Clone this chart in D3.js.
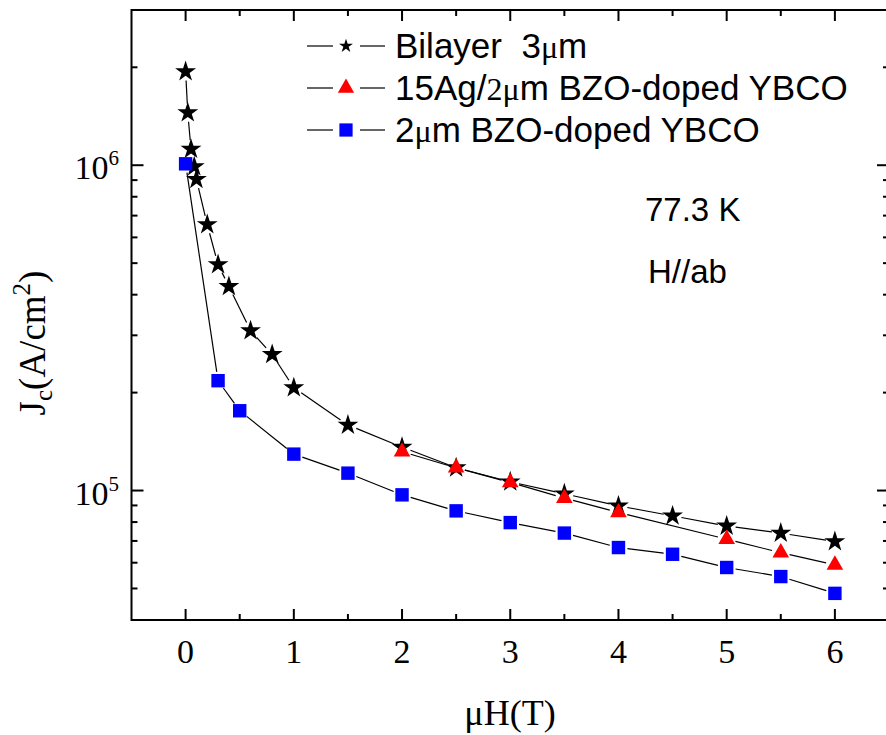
<!DOCTYPE html>
<html>
<head>
  <meta charset="utf-8">
  <title>Jc vs field</title>
  <script src="https://cdnjs.cloudflare.com/ajax/libs/d3/7.8.5/d3.min.js"></script>
  <style>
    body { margin: 0; background: white; }
    svg { display: block; }
    .serif { font-family: "Liberation Serif", "Times New Roman", serif; }
    .sans { font-family: "Liberation Sans", Arial, sans-serif; }
  </style>
</head>
<body>
<svg id="chart" width="886" height="735"></svg>
<script>
// data
var bilayerX = [0, 0.02, 0.05, 0.08, 0.1, 0.2, 0.3, 0.4, 0.6, 0.8, 1, 1.5, 2, 2.5, 3, 3.5, 4, 4.5, 5, 5.5, 6];
var bilayerY = [1.94e6, 1.45e6, 1.12e6, 0.99e6, 0.905e6, 0.657e6, 0.495e6, 0.424e6, 0.31e6, 0.262e6, 0.207e6,
                1.59e5, 1.36e5, 1.175e5, 1.064e5, 9.77e4, 8.97e4, 8.36e4, 7.78e4, 7.4e4, 6.97e4];
var agX = [2, 2.5, 3, 3.5, 4, 5, 5.5, 6];
var agY = [1.316e5, 1.175e5, 1.059e5, 9.48e4, 8.56e4, 7.09e4, 6.44e4, 5.91e4];
var bzoX = [0, 0.3, 0.5, 1, 1.5, 2, 2.5, 3, 3.5, 4, 4.5, 5, 5.5, 6];
var bzoY = [1.01e6, 2.176e5, 1.759e5, 1.294e5, 1.131e5, 9.7e4, 8.66e4, 7.97e4, 7.4e4, 6.68e4, 6.37e4, 5.8e4, 5.44e4, 4.83e4];
var xTicks = [0, 1, 2, 3, 4, 5, 6];
var yMajor = [1e5, 1e6];

var svg = d3.select("#chart");
var x = d3.scaleLinear().domain([-0.5, 6.5]).range([131.5, 889]);
var y = d3.scaleLog().domain([4e4, 3e6]).range([620, 10]);

// frame
svg.append("rect")
  .attr("x", x(-0.5)).attr("y", y(3e6))
  .attr("width", x(6.5) - x(-0.5)).attr("height", y(4e4) - y(3e6))
  .attr("fill", "none").attr("stroke", "black").attr("stroke-width", 2);

// ticks
var xMinor = d3.range(-0.5, 6.51, 0.5).filter(v => !xTicks.includes(v) && v > -0.5 && v < 6.5);
var yMinor = [];
[1e4, 1e5, 1e6].forEach(dec => { for (var k = 2; k <= 9; k++) { var v = k * dec; if (v > 4e4 && v < 3e6) yMinor.push(v); } });

var tk = svg.append("g").attr("stroke", "black").attr("stroke-width", 2);
function hTick(v, len) {
  tk.append("line").attr("x1", x(v)).attr("x2", x(v)).attr("y1", 620).attr("y2", 620 - len);
  tk.append("line").attr("x1", x(v)).attr("x2", x(v)).attr("y1", 10).attr("y2", 10 + len);
}
function vTick(v, len) {
  tk.append("line").attr("y1", y(v)).attr("y2", y(v)).attr("x1", 131.5).attr("x2", 131.5 + len);
  tk.append("line").attr("y1", y(v)).attr("y2", y(v)).attr("x1", 889).attr("x2", 889 - len);
}
xTicks.forEach(v => hTick(v, 11));
xMinor.forEach(v => hTick(v, 6));
yMajor.forEach(v => vTick(v, 12));
yMinor.forEach(v => vTick(v, 6));

// tick labels
svg.append("g").selectAll("text").data(xTicks).join("text")
  .attr("class", "serif").attr("x", d => x(d)).attr("y", 663)
  .attr("text-anchor", "middle").attr("font-size", 34).text(d => d);

yMajor.forEach(v => {
  var t = svg.append("text").attr("class", "serif").attr("x", 119).attr("y", y(v) + 14)
    .attr("text-anchor", "end").attr("font-size", 34);
  t.append("tspan").text("10");
  t.append("tspan").attr("font-size", 21).attr("dy", -14).text(Math.round(Math.log10(v)));
});

// axis titles
svg.append("text").attr("class", "serif").attr("x", 510).attr("y", 725)
  .attr("text-anchor", "middle").attr("font-size", 36).text("\u03bcH(T)");

var yt = svg.append("text").attr("class", "serif")
  .attr("transform", "translate(45,343) rotate(-90)")
  .attr("text-anchor", "middle").attr("font-size", 37);
yt.append("tspan").text("J");
yt.append("tspan").attr("font-size", 25).attr("dy", 7).text("c");
yt.append("tspan").attr("dy", -7).text("(A/cm");
yt.append("tspan").attr("font-size", 25).attr("dy", -15).text("2");
yt.append("tspan").attr("dy", 15).text(")");

// series
var series = [
  {xs: bilayerX, ys: bilayerY, sym: d3.symbolStar, size: 135, lsize: 60, color: "black"},
  {xs: agX, ys: agY, sym: d3.symbolTriangle, size: 120, lsize: 115, color: "#ff0000"},
  {xs: bzoX, ys: bzoY, sym: d3.symbolSquare, size: 180, lsize: 175, color: "#0000ff"}
];

var gap = 9;
series.forEach(s => {
  var pts = s.xs.map((v, i) => [x(v), y(s.ys[i])]);
  var g = svg.append("g");
  for (var i = 0; i < pts.length - 1; i++) {
    var a = pts[i], b = pts[i + 1];
    var dx = b[0] - a[0], dy = b[1] - a[1], L = Math.hypot(dx, dy);
    if (L <= 2 * gap) continue;
    var ux = dx / L, uy = dy / L;
    g.append("line")
      .attr("x1", a[0] + ux * gap).attr("y1", a[1] + uy * gap)
      .attr("x2", b[0] - ux * gap).attr("y2", b[1] - uy * gap)
      .attr("stroke", "black").attr("stroke-width", 1.2);
  }
});
series.forEach(s => {
  svg.append("g").selectAll("path").data(s.xs).join("path")
    .attr("transform", (d, i) => "translate(" + x(d) + "," + y(s.ys[i]) + ")")
    .attr("d", d3.symbol().type(s.sym).size(s.size))
    .attr("fill", s.color);
});

// legend
var legendRows = [
  [{t: "Bilayer\u00a0\u00a03"}, {t: "\u03bc", serif: true}, {t: "m"}],
  [{t: "15Ag/"}, {t: "2\u03bc", serif: true}, {t: "m BZO-doped YBCO"}],
  [{t: "2"}, {t: "\u03bc", serif: true}, {t: "m BZO-doped YBCO"}]
];
legendRows.forEach((row, i) => {
  var cy = 46 + i * 42;
  var s = series[i];
  svg.append("line").attr("x1", 307).attr("x2", 333).attr("y1", cy).attr("y2", cy)
    .attr("stroke", "black").attr("stroke-width", 1.2);
  svg.append("line").attr("x1", 360).attr("x2", 385).attr("y1", cy).attr("y2", cy)
    .attr("stroke", "black").attr("stroke-width", 1.2);
  svg.append("path").attr("transform", "translate(346," + cy + ")")
    .attr("d", d3.symbol().type(s.sym).size(s.lsize)).attr("fill", s.color);
  var t = svg.append("text").attr("class", "sans").attr("x", 395).attr("y", cy + 12)
    .attr("font-size", 35);
  row.forEach(p => {
    var sp = t.append("tspan").text(p.t);
    if (p.serif) sp.attr("class", "serif").attr("font-size", 32);
  });
});

// annotations
svg.append("text").attr("class", "sans").attr("x", 645).attr("y", 221)
  .attr("font-size", 33).text("77.3 K");
svg.append("text").attr("class", "sans").attr("x", 648).attr("y", 283)
  .attr("font-size", 33).text("H//ab");
</script>
</body>
</html>
